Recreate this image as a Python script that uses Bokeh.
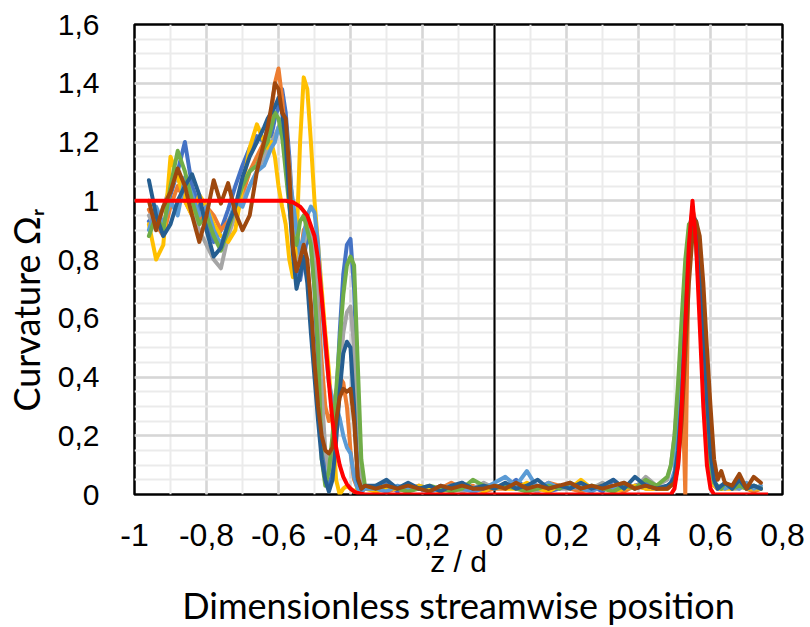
from bokeh.plotting import figure
from bokeh.models import Range1d, FixedTicker, Span, Title
from bokeh.embed import file_html
from bokeh.resources import INLINE
import numpy as np

# ---------------- data ----------------
z = [-0.96, -0.94, -0.92, -0.90, -0.88, -0.86, -0.84, -0.82, -0.80, -0.78, -0.76, -0.74, -0.72, -0.70, -0.68, -0.66, -0.64,
     -0.63, -0.62, -0.61, -0.60, -0.59, -0.58, -0.57, -0.56, -0.55, -0.54, -0.53, -0.52, -0.51, -0.50, -0.49, -0.48, -0.47,
     -0.46, -0.45, -0.44, -0.43, -0.42, -0.41, -0.40, -0.39, -0.38, -0.37, -0.36,
     -0.33, -0.30, -0.27, -0.24, -0.21, -0.18, -0.15, -0.12, -0.09, -0.06, -0.03, 0.00, 0.03, 0.06, 0.09, 0.12, 0.15, 0.18,
     0.21, 0.24, 0.27, 0.30, 0.33, 0.36, 0.39, 0.42, 0.45,
     0.48, 0.49, 0.50, 0.51, 0.52, 0.53, 0.54, 0.55, 0.56, 0.57, 0.58, 0.59, 0.60, 0.61, 0.62, 0.63, 0.64,
     0.66, 0.68, 0.70, 0.72, 0.74]

s_blue = ([0.93, 0.95, 0.90, 1.02, 1.10, 1.20, 1.05, 0.98, 0.92, 0.86, 0.90, 0.97, 1.05, 1.12, 1.18, 1.22, 1.20]
          + [1.25, 1.22, 1.28, 1.32, 1.38, 1.30, 1.15, 0.95, 0.78, 0.73, 0.80, 0.88, 0.85, 0.70, 0.45, 0.20, 0.06, 0.02,
             0.08, 0.30, 0.55, 0.75, 0.85, 0.87, 0.70, 0.35, 0.08, 0.02]
          + [0.02, 0.04, 0.01, 0.03, 0.02, 0.01, 0.03, 0.02, 0.04, 0.01, 0.02, 0.03, 0.02, 0.05, 0.02, 0.03, 0.01, 0.02,
             0.04, 0.02, 0.03, 0.01, 0.05, 0.02, 0.03, 0.04, 0.02]
          + [0.02, 0.03, 0.05, 0.15, 0.35, 0.62, 0.85, 0.95, 0.90, 0.72, 0.48, 0.25, 0.10, 0.04, 0.02, 0.03, 0.02,
             0.03, 0.04, 0.02, 0.03, 0.02])

s_orange = ([0.97, 0.92, 0.88, 0.98, 1.05, 1.00, 0.95, 0.93, 0.98, 0.95, 0.90, 0.93, 0.97, 1.02, 1.10, 1.15, 1.20]
            + [1.22, 1.30, 1.40, 1.45, 1.35, 1.20, 1.00, 0.85, 0.78, 0.80, 0.90, 0.92, 0.88, 0.80, 0.65, 0.45, 0.30, 0.25,
               0.28, 0.35, 0.40, 0.38, 0.30, 0.15, 0.05, 0.02, 0.01, 0.02]
            + [0.03, 0.01, 0.02, 0.02, 0.03, 0.01, 0.02, 0.04, 0.02, 0.03, 0.01, 0.02, 0.02, 0.03, 0.01, 0.02, 0.04, 0.03,
               0.02, 0.01, 0.02, 0.03, 0.02, 0.01, 0.03, 0.02, 0.02]
            + [0.02, 0.03, 0.06, 0.20, 0.45, 0.00, 0.88, 0.97, 0.92, 0.75, 0.50, 0.25, 0.10, 0.03, 0.02, 0.02, 0.03,
               0.02, 0.03, 0.02, 0.01, 0.02])

s_gray = ([0.95, 0.90, 0.98, 1.05, 1.08, 1.02, 0.96, 0.90, 0.85, 0.80, 0.77, 0.88, 0.95, 1.00, 1.05, 1.10, 1.15]
          + [1.18, 1.20, 1.22, 1.25, 1.28, 1.25, 1.12, 0.95, 0.82, 0.78, 0.85, 0.90, 0.90, 0.82, 0.60, 0.35, 0.15, 0.08,
             0.12, 0.25, 0.40, 0.55, 0.62, 0.64, 0.50, 0.20, 0.05, 0.02]
          + [0.02, 0.03, 0.02, 0.01, 0.03, 0.02, 0.02, 0.03, 0.01, 0.02, 0.04, 0.02, 0.03, 0.02, 0.02, 0.01, 0.03, 0.02,
             0.02, 0.03, 0.02, 0.04, 0.02, 0.03, 0.02, 0.06, 0.03]
          + [0.05, 0.10, 0.20, 0.35, 0.55, 0.75, 0.90, 0.94, 0.85, 0.65, 0.42, 0.22, 0.08, 0.03, 0.02, 0.02, 0.03,
             0.02, 0.02, 0.03, 0.02, 0.02])

s_yellow = ([0.92, 0.80, 0.85, 1.15, 1.08, 1.00, 0.95, 1.02, 0.98, 0.92, 0.88, 0.86, 0.90, 1.05, 1.18, 1.26, 1.20]
            + [1.18, 1.20, 1.15, 1.05, 0.98, 0.92, 0.80, 0.74, 0.85, 1.20, 1.42, 1.38, 1.20, 1.00, 0.85, 0.70, 0.55, 0.42,
               0.25, 0.05, 0.00, 0.02, 0.03, 0.02, 0.01, 0.02, 0.01, 0.02]
            + [0.01, 0.02, 0.02, 0.01, 0.03, 0.02, 0.01, 0.02, 0.03, 0.02, 0.01, 0.03, 0.02, 0.02, 0.04, 0.02, 0.01, 0.03,
               0.02, 0.05, 0.02, 0.03, 0.01, 0.02, 0.03, 0.02, 0.02]
            + [0.02, 0.03, 0.06, 0.18, 0.40, 0.65, 0.87, 0.96, 0.90, 0.70, 0.45, 0.22, 0.08, 0.03, 0.02, 0.02, 0.02,
               0.02, 0.03, 0.02, 0.02, 0.02])

s_lightblue = ([0.90, 0.98, 0.92, 1.00, 0.95, 1.08, 1.02, 0.95, 0.98, 0.90, 0.85, 0.92, 1.00, 0.98, 1.05, 1.10, 1.12]
               + [1.15, 1.18, 1.20, 1.25, 1.22, 1.15, 1.08, 1.00, 0.90, 0.82, 0.88, 0.95, 0.98, 0.96, 0.85, 0.65, 0.50,
                  0.38, 0.32, 0.30, 0.26, 0.20, 0.16, 0.14, 0.06, 0.02, 0.01, 0.02]
               + [0.02, 0.01, 0.03, 0.02, 0.02, 0.01, 0.02, 0.03, 0.02, 0.01, 0.02, 0.04, 0.06, 0.03, 0.08, 0.02, 0.04,
                  0.02, 0.03, 0.02, 0.01, 0.03, 0.02, 0.04, 0.02, 0.03, 0.02]
               + [0.03, 0.04, 0.08, 0.22, 0.45, 0.70, 0.90, 0.96, 0.92, 0.75, 0.50, 0.28, 0.10, 0.04, 0.02, 0.03, 0.02,
                  0.03, 0.02, 0.04, 0.02, 0.03])

s_green = ([0.88, 0.95, 0.90, 1.05, 1.17, 1.10, 1.00, 0.92, 0.95, 0.88, 0.83, 0.90, 0.98, 1.05, 1.10, 1.12, 1.18]
           + [1.20, 1.25, 1.30, 1.28, 1.22, 1.10, 0.98, 0.88, 0.85, 0.93, 0.95, 0.90, 0.85, 0.70, 0.50, 0.12, 0.03, 0.08,
              0.20, 0.35, 0.52, 0.68, 0.78, 0.81, 0.78, 0.45, 0.12, 0.03]
           + [0.02, 0.03, 0.02, 0.01, 0.02, 0.03, 0.02, 0.01, 0.02, 0.05, 0.03, 0.02, 0.03, 0.02, 0.01, 0.02, 0.03, 0.02,
              0.04, 0.02, 0.03, 0.02, 0.01, 0.03, 0.02, 0.05, 0.03]
           + [0.06, 0.10, 0.20, 0.38, 0.60, 0.80, 0.92, 0.93, 0.85, 0.68, 0.45, 0.25, 0.10, 0.04, 0.03, 0.02, 0.04,
              0.02, 0.03, 0.02, 0.03, 0.02])

s_darkblue = ([1.07, 0.95, 0.88, 0.92, 1.00, 1.05, 1.09, 1.02, 0.90, 0.81, 0.84, 0.92, 0.98, 1.08, 1.15, 1.20, 1.25]
              + [1.28, 1.30, 1.32, 1.35, 1.30, 1.20, 1.00, 0.82, 0.70, 0.75, 0.81, 0.72, 0.55, 0.40, 0.25, 0.12, 0.05,
                 0.01, 0.05, 0.18, 0.35, 0.48, 0.52, 0.50, 0.30, 0.05, 0.02, 0.03]
              + [0.03, 0.05, 0.02, 0.04, 0.02, 0.03, 0.01, 0.03, 0.04, 0.02, 0.03, 0.02, 0.04, 0.02, 0.03, 0.05, 0.02,
                 0.03, 0.02, 0.04, 0.02, 0.03, 0.05, 0.02, 0.06, 0.03, 0.02]
              + [0.03, 0.04, 0.06, 0.15, 0.32, 0.58, 0.82, 0.95, 0.93, 0.80, 0.58, 0.33, 0.14, 0.05, 0.02, 0.03, 0.04,
                 0.02, 0.05, 0.02, 0.03, 0.02])

s_brown = ([1.00, 0.90, 0.98, 1.03, 1.11, 1.05, 0.95, 0.86, 0.95, 1.07, 0.99, 1.06, 0.96, 0.90, 0.95, 1.10, 1.20]
           + [1.25, 1.32, 1.40, 1.38, 1.30, 1.28, 1.10, 0.84, 0.76, 0.80, 0.85, 0.80, 0.65, 0.45, 0.30, 0.20, 0.15, 0.14,
              0.16, 0.25, 0.33, 0.36, 0.35, 0.36, 0.25, 0.06, 0.02, 0.03]
           + [0.02, 0.03, 0.02, 0.03, 0.02, 0.01, 0.03, 0.02, 0.03, 0.02, 0.02, 0.03, 0.02, 0.04, 0.02, 0.03, 0.02, 0.03,
              0.04, 0.02, 0.03, 0.02, 0.03, 0.04, 0.02, 0.03, 0.02]
           + [0.02, 0.03, 0.04, 0.10, 0.25, 0.48, 0.72, 0.88, 0.93, 0.88, 0.72, 0.50, 0.30, 0.12, 0.05, 0.08, 0.04,
              0.03, 0.07, 0.02, 0.06, 0.04])

model_z = [-1.00, -0.58, -0.56, -0.54, -0.52, -0.50, -0.49, -0.48, -0.47, -0.46, -0.45, -0.44, -0.43, -0.42, -0.41,
           -0.40, -0.39, -0.38, -0.36, 0.49, 0.50, 0.51, 0.52, 0.53, 0.54, 0.55, 0.56, 0.57, 0.58, 0.59, 0.60, 0.61, 0.76]
model_omega = [1.00, 1.00, 0.995, 0.98, 0.95, 0.88, 0.80, 0.67, 0.53, 0.38, 0.25, 0.16, 0.10, 0.06, 0.035,
               0.02, 0.01, 0.005, 0.00, 0.00, 0.02, 0.10, 0.30, 0.58, 0.85, 1.00, 0.85, 0.58, 0.30, 0.10, 0.02, 0.00, 0.00]

x_ticks = [-1.0, -0.8, -0.6, -0.4, -0.2, 0.0, 0.2, 0.4, 0.6, 0.8]
x_tick_labels = ["-1", "-0,8", "-0,6", "-0,4", "-0,2", "0", "0,2", "0,4", "0,6", "0,8"]
y_ticks = [0.0, 0.2, 0.4, 0.6, 0.8, 1.0, 1.2, 1.4, 1.6]
y_tick_labels = ["0", "0,2", "0,4", "0,6", "0,8", "1", "1,2", "1,4", "1,6"]

series = [
    (s_blue, "#4472C4"),
    (s_orange, "#ED7D31"),
    (s_gray, "#A5A5A5"),
    (s_yellow, "#FFC000"),
    (s_lightblue, "#5B9BD5"),
    (s_green, "#70AD47"),
    (s_darkblue, "#255E91"),
    (s_brown, "#9E480E"),
]
for s, c in series:
    if len(s) != len(z):
        raise ValueError("length mismatch %s %d" % (c, len(s)))

# ---------------- figure ----------------
p = figure(width=810, height=627,
           x_range=Range1d(-1.0, 0.8), y_range=Range1d(0.0, 1.6),
           output_backend="svg", toolbar_location=None,
           min_border_left=134, min_border_top=24, min_border_right=28, min_border_bottom=133)
p.background_fill_color = "white"
p.border_fill_color = "white"
p.outline_line_color = "black"
p.outline_line_width = 2.5

x_minor = list(np.round(np.arange(-1.0, 0.8001, 0.1), 2))
y_minor = list(np.round(np.arange(0.0, 1.6001, 0.05), 3))
p.xaxis.ticker = FixedTicker(ticks=x_ticks, minor_ticks=x_minor)
p.yaxis.ticker = FixedTicker(ticks=y_ticks, minor_ticks=y_minor)
p.xaxis.major_label_overrides = dict(zip(x_ticks, x_tick_labels))
p.yaxis.major_label_overrides = dict(zip(y_ticks, y_tick_labels))

for g in (p.xgrid, p.ygrid):
    g.grid_line_color = "#d6d6d6"
    g.grid_line_width = 2.5
    g.minor_grid_line_color = "#ebebeb"
    g.minor_grid_line_width = 2

for ax in (p.xaxis, p.yaxis):
    ax.axis_line_color = None
    ax.major_tick_line_color = None
    ax.minor_tick_line_color = None
    ax.major_label_text_font = "Liberation Sans"
    ax.major_label_text_color = "black"

p.xaxis.major_label_text_font_size = "32px"
p.yaxis.major_label_text_font_size = "30px"
p.xaxis.major_label_standoff = 23
p.yaxis.major_label_standoff = 29

p.xaxis.axis_label = "z / d"
p.xaxis.axis_label_text_font = "Liberation Sans"
p.xaxis.axis_label_text_font_size = "30px"
p.xaxis.axis_label_text_font_style = "normal"
p.xaxis.axis_label_text_color = "black"
p.xaxis.axis_label_standoff = -4

nb = "\u00a0"
p.yaxis.axis_label = "Curvature " + "\u03a9\u1d63" + nb * 11
p.yaxis.axis_label_text_font = "Lato"
p.yaxis.axis_label_text_font_size = "36px"
p.yaxis.axis_label_text_font_style = "normal"
p.yaxis.axis_label_text_color = "black"
p.yaxis.axis_label_standoff = 7

p.add_layout(Title(text="Dimensionless streamwise position", align="center",
                   text_font="Lato", text_font_size="36px", text_font_style="normal",
                   text_color="black", standoff=0), "below")

p.add_layout(Span(location=0, dimension="height", line_color="black", line_width=2, level="underlay"))

for s, c in series:
    p.line(z, s, line_color=c, line_width=4, line_join="round", line_cap="round")

p.line(model_z, model_omega, line_color="#FF0000", line_width=4, line_join="round")

open("out.html", "w").write(file_html(p, INLINE))
